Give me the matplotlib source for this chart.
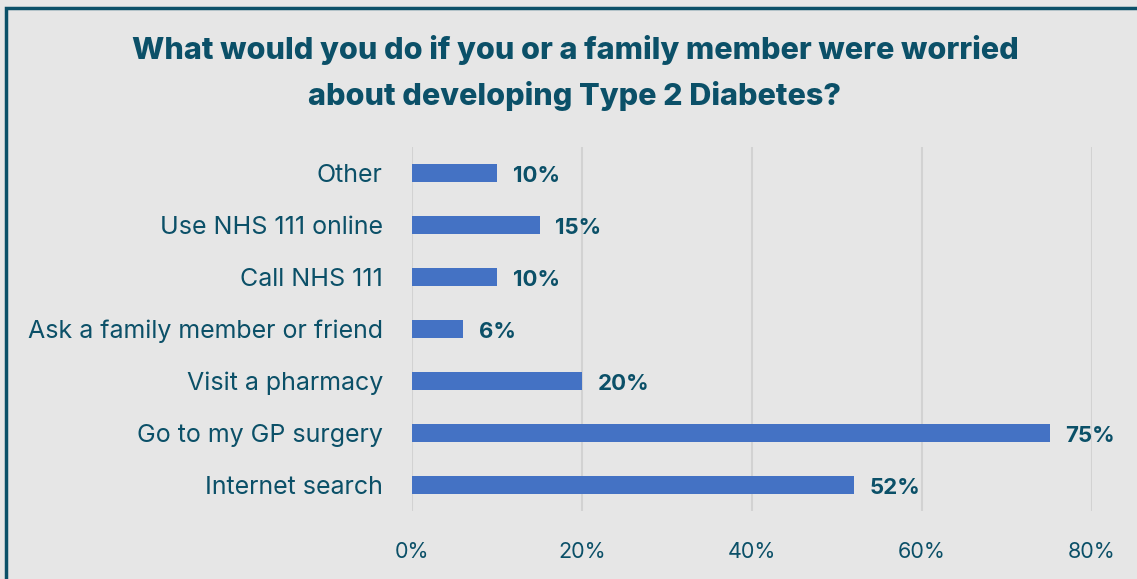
import matplotlib
matplotlib.use("Agg")
import matplotlib.pyplot as plt
from matplotlib.patches import Rectangle

categories = ["Internet search", "Go to my GP surgery", "Visit a pharmacy",
              "Ask a family member or friend", "Call NHS 111", "Use NHS 111 online", "Other"]
values = [52, 75, 20, 6, 10, 15, 10]
xticks = [0, 20, 40, 60, 80]
xtick_labels = ["0%", "20%", "40%", "60%", "80%"]
title = "What would you do if you or a family member were worried\nabout developing Type 2 Diabetes?"

text_c = "#0b5068"
bar_c = "#4472c4"
bg = "#e6e6e6"
plt.rcParams["font.family"] = ["Inter", "DejaVu Sans"]

fig = plt.figure(figsize=(11.37, 5.79), dpi=100, facecolor=bg)
ax = fig.add_axes([412 / 1137, 68 / 579, 680 / 1137, 364 / 579])
ax.set_facecolor(bg)

ypos = list(range(len(categories)))
ax.barh(ypos, values, height=0.35, color=bar_c, zorder=3)
for y, v in zip(ypos, values):
    ax.annotate(f"{v}%", (v, y), xytext=(11.5, -2.5), textcoords="offset points",
                ha="left", va="center", fontsize=16, fontweight="bold", color=text_c)

ax.set_xlim(0, 80)
ax.set_ylim(-0.5, len(categories) - 0.5)
ax.set_xticks(xticks)
ax.set_xticklabels(xtick_labels)
ax.set_yticks(ypos)
ax.set_yticklabels(categories)
ax.tick_params(axis="y", length=0, pad=21, labelsize=18, labelcolor=text_c)
ax.tick_params(axis="x", length=0, pad=22, labelsize=15.5, labelcolor=text_c)
ax.grid(axis="x", color="#d2d2d2", linewidth=1.5, zorder=0)
for s in ax.spines.values():
    s.set_visible(False)

fig.text(575 / 1137, 1 - 73 / 579, title, ha="center", va="center", fontsize=22,
         fontweight="heavy", color=text_c, linespacing=1.65)

fig.patches.append(Rectangle((6 / 1137, -0.1), 1.2, 1.1 - 7.5 / 579, transform=fig.transFigure,
                             fill=False, edgecolor="#0b5068", linewidth=2.5))

fig.savefig("out.png", dpi=100, facecolor=bg)
